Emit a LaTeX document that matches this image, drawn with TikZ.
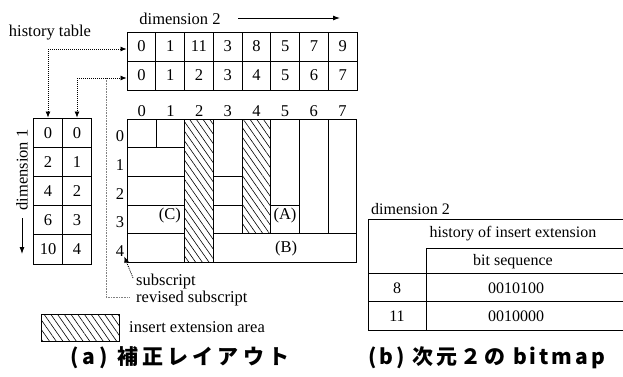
\documentclass[tikz,border=0pt]{standalone}
\usepackage{fontspec}
\setmainfont{Liberation Serif}
\newfontfamily\cjka{Noto Sans CJK JP}[LetterSpace=20]
\newfontfamily\cjkb{Noto Sans CJK JP}[LetterSpace=14]
\usetikzlibrary{patterns.meta,arrows.meta}
\begin{document}
\begin{tikzpicture}[x=1pt,y=-1pt,
  every node/.style={font=\fontsize{16.5}{18}\selectfont, inner sep=0pt},
  rtext/.style={font=\fontsize{16}{18}\selectfont},
  cell/.style={draw, line width=0.9pt, minimum width=28.75pt, minimum height=29pt},
  lcell/.style={draw, line width=0.9pt, minimum width=29pt, minimum height=29.2pt},
  gline/.style={line width=0.9pt},
  hatch/.style={pattern={Lines[angle=-55,distance=5.5pt,line width=0.6pt]}},
  dotarrow/.style={line width=0.8pt, dash pattern=on 1pt off 1pt, -{Latex[length=6pt,width=5pt]}},
  grayline/.style={line width=0.7pt, gray, dash pattern=on 0.8pt off 0.8pt},
  solidarrow/.style={line width=0.9pt, -{Latex[length=7pt,width=5pt]}},
  caption/.style={font=\bfseries\fontsize{21}{24}\selectfont, anchor=west}]
\useasboundingbox (0,0) rectangle (623,376);

% ---------- top history table ----------
\foreach \v [count=\i from 0] in {0,1,11,3,8,5,7,9}
  \node[cell] (ta\i) at ({127+28.75*(\i+0.5)},46.5) {\v};
\foreach \v [count=\i from 0] in {0,1,2,3,4,5,6,7}
  \node[cell] (tb\i) at ({127+28.75*(\i+0.5)},75.5) {\v};

\node (dim2) at (180,19) {dimension 2};
\coordinate (d2s) at (238,18);
\coordinate (d2e) at (340,18);
\draw[solidarrow] (d2s) -- (d2e);

% ---------- left history table ----------
\foreach \a/\b [count=\i from 0] in {0/0,2/1,4/2,6/3,10/4}{
  \node[lcell] (la\i) at (48,{118+29.2*(\i+0.5)}) {\a};
  \node[lcell] (lb\i) at (77,{118+29.2*(\i+0.5)}) {\b};
}
\node[rotate=90] (dim1) at (22,170) {dimension 1};
\coordinate (d1s) at (22,218);
\coordinate (d1e) at (22,254);
\draw[solidarrow] (d1s) -- (d1e);

% ---------- history table pointers ----------
\node (ht) at (50,33) {history table};
\coordinate (j1) at (48,49);
\coordinate (j2) at (77,78);
\coordinate (j3) at (106,78);
\draw[dotarrow] (j1) -- (j1 -| ta0.west);
\draw[dotarrow] (j1) -- (la0.north);
\draw[dotarrow] (j2) -- (j2 -| tb0.west);
\draw[dotarrow] (j2) -- (lb0.north);

% ---------- grid ----------
\def\Xa{127.5}\def\Xb{156.15}\def\Xc{184.8}\def\Xd{213.45}\def\Xe{242.1}
\def\Xf{270.75}\def\Xg{299.4}\def\Xh{328.05}\def\Xi{356.7}
\def\Ya{119}\def\Yb{147.7}\def\Yc{176.4}\def\Yd{205.1}\def\Ye{233.8}\def\Yf{262.5}

\foreach \v [count=\i from 0] in {0,...,7}
  \node (c\i) at ({127.5+28.65*(\i+0.5)},111) {\v};
\foreach \v/\y in {0/136,1/165,2/194,3/222.5,4/251}
  \node (r\v) at (120,\y) {\v};

\draw[gline] (\Xa,\Ya) rectangle (\Xb,\Yb);
\draw[gline] (\Xb,\Ya) rectangle (\Xc,\Yb);
\draw[gline] (\Xa,\Yb) rectangle (\Xc,\Yc);
\draw[gline] (\Xa,\Yc) rectangle (\Xc,\Yd);
\draw[gline] (\Xa,\Yd) rectangle (\Xc,\Ye);
\draw[gline] (\Xa,\Ye) rectangle (\Xc,\Yf);
\draw[gline,hatch] (\Xc,\Ya) rectangle (\Xd,\Yf);
\draw[gline] (\Xd,\Ya) rectangle (\Xe,\Yc);
\draw[gline] (\Xd,\Yc) rectangle (\Xe,\Yd);
\draw[gline] (\Xd,\Yd) rectangle (\Xe,\Ye);
\draw[gline,hatch] (\Xe,\Ya) rectangle (\Xf,\Ye);
\draw[gline] (\Xf,\Ya) rectangle (\Xg,\Yd);
\draw[gline] (\Xf,\Yd) rectangle (\Xg,\Ye);
\draw[gline] (\Xg,\Ya) rectangle (\Xh,\Ye);
\draw[gline] (\Xh,\Ya) rectangle (\Xi,\Ye);
\draw[gline] (\Xd,\Ye) rectangle (\Xi,\Yf);

\node[anchor=east] (C) at (181,216) {(C)};
\node (A) at (285,216) {(A)};
\node (B) at (286,249) {(B)};

% ---------- subscript annotations ----------
\node[anchor=west] (sub) at (136,282) {subscript};
\node[anchor=west] (rsub) at (136,299) {revised subscript};
\coordinate (sa) at (133,278);
\draw[dotarrow] (sa) -- (r4.south east);
\coordinate (rc) at (130,297);
\draw[grayline] (j3) |- (rc);

% ---------- legend ----------
\draw[gline,hatch] (41,314) rectangle (119,341);
\node[anchor=west] (legt) at (129,327) {insert extension area};

% ---------- right table ----------
\node[rtext,anchor=west] (rdim) at (371,209) {dimension 2};
\draw[gline] (623,219.3) -- (368,219.3) -- (368,330);
\draw[gline] (426.7,330) -- (426.7,248.3) -- (623,248.3);
\draw[gline] (368,273.3) -- (623,273.3);
\draw[gline] (368,301.7) -- (623,301.7);
\draw[gline] (368,330) -- (623,330);
\node[rtext] (hie) at (513,234) {history of insert extension};
\node[rtext] (bs) at (513,262) {bit sequence};
\node[rtext] (k8) at (397,288) {8};
\node[rtext] (v8) at (516,288) {0010100};
\node[rtext] (k11) at (397,316) {11};
\node[rtext] (v11) at (516,316) {0010000};

% ---------- captions ----------
\node[caption] (capa) at (70,358) {\cjka (a) 補正レイアウト};
\node[caption] (capb) at (368,358) {\cjkb (b) 次元２の bitmap};
\end{tikzpicture}
\end{document}
